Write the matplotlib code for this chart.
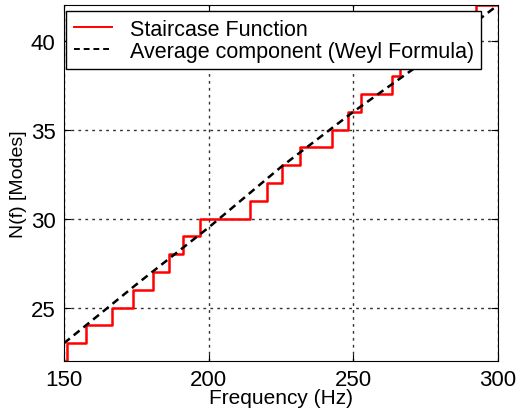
import matplotlib
matplotlib.use('Agg')
import matplotlib.pyplot as plt
import numpy as np

plt.rcParams['font.family'] = ['Liberation Sans', 'DejaVu Sans']

# ================================== data ==================================
# frequencies (Hz) where the mode count steps up, and the count from there on
step_freq = [150.0, 151.1, 157.5, 166.7, 173.7, 180.6, 186.3, 191.2, 197.1, 214.4,
             220.3, 225.2, 231.7, 242.5, 248.0, 252.6, 263.3, 266.1, 274.0, 283.0,
             292.4, 300.0]
step_modes = [22, 23, 24, 25, 26, 27, 28, 29, 30, 31,
              32, 33, 34, 35, 36, 37, 38, 39, 40, 41,
              42, 42]

# average component (Weyl formula)
weyl_freq = [150, 175, 200, 225, 250, 275, 300]
weyl_modes = [23.0, 26.3, 29.5, 32.9, 36.0, 38.9, 42.0]

x_ticks = [150, 200, 250, 300]
y_ticks = [25, 30, 35, 40]

# ================================== plot ==================================
fig = plt.figure(figsize=(5.17, 4.10), dpi=100)
ax = fig.add_axes([64 / 517, 48 / 410, 434 / 517, 356 / 410])

ax.step(step_freq, step_modes, where='post', color='r', lw=1.8,
        label='Staircase Function')
ax.plot(weyl_freq, weyl_modes, 'k--', lw=1.8, dashes=(3, 2),
        label='Average component (Weyl Formula)')

ax.set_xlim(150, 300)
ax.set_ylim(22, 42)
ax.set_xticks(x_ticks)
ax.set_yticks(y_ticks)
ax.tick_params(direction='in', top=True, right=True, labelsize=16, length=5, pad=6)
ax.grid(True, color='k', linestyle=(0, (2, 3)), lw=1, alpha=0.8)

ax.set_xlabel('Frequency (Hz)', fontsize=15, labelpad=-2)
ax.set_ylabel('N(f) [Modes]', fontsize=14, labelpad=3)

leg = ax.legend(loc='upper left', bbox_to_anchor=(0.005, 0.983), borderaxespad=0,
                fontsize=15.5, fancybox=False, framealpha=1, edgecolor='k',
                handlelength=1.8, handletextpad=0.8, borderpad=0.35,
                labelspacing=0.05)
leg.get_frame().set_linewidth(1)
for line in leg.get_lines():
    line.set_linewidth(1.4)

fig.savefig('out.png', dpi=100)
